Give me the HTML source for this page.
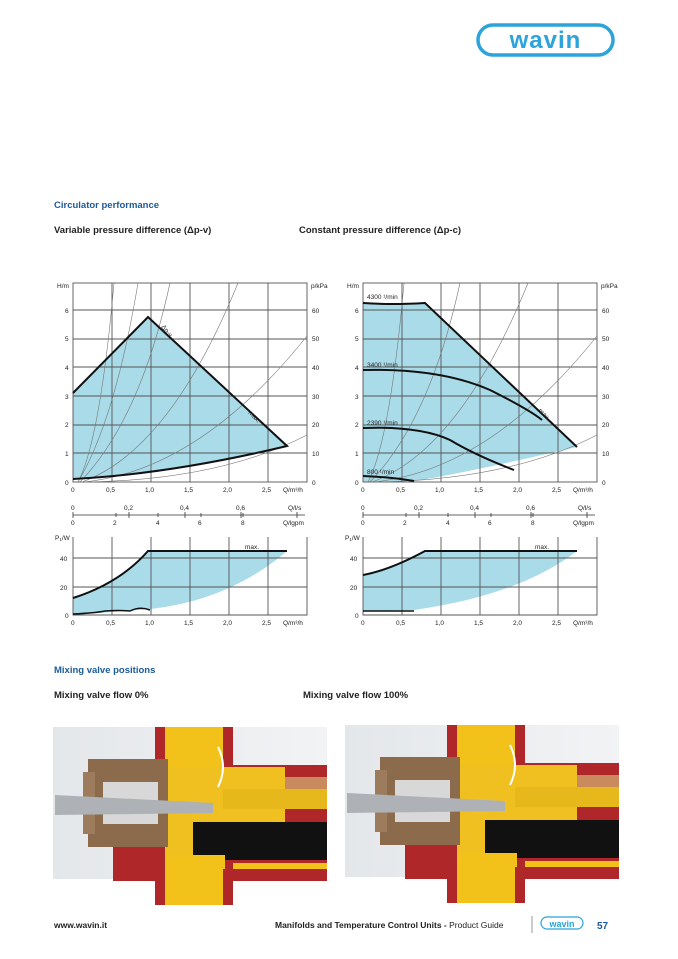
<!DOCTYPE html>
<html><head><meta charset="utf-8"><style>
html,body{margin:0;padding:0;background:#fff;}
svg{display:block;font-family:"Liberation Sans",Arial,sans-serif;}
</style></head><body>
<svg width="678" height="959" viewBox="0 0 678 959" xmlns="http://www.w3.org/2000/svg">
<defs>
<linearGradient id="bg" x1="0" y1="0" x2="1" y2="0"><stop offset="0" stop-color="#e4e7ea"/><stop offset="1" stop-color="#f2f3f5"/></linearGradient>
<g id="photo">
  <rect x="0" y="0" width="274" height="152" fill="url(#bg)"/>
  <rect x="60" y="38" width="214" height="116" fill="#b0272a"/>
  <rect x="102" y="0" width="78" height="178" fill="#b0272a"/>
  <rect x="112" y="0" width="58" height="178" fill="#f2c21a"/>
  <rect x="180" y="50" width="94" height="20" fill="#c98a5e"/>
  <rect x="112" y="40" width="120" height="88" fill="#f0c020"/>
  <rect x="170" y="62" width="104" height="20" fill="#e7b81c"/>
  <rect x="140" y="95" width="134" height="38" fill="#111"/>
  <rect x="112" y="128" width="60" height="14" fill="#f2c21a"/>
  <rect x="180" y="136" width="94" height="6" fill="#f2c21a"/>
  <rect x="35" y="32" width="80" height="88" fill="#8b6b4c"/>
  <rect x="30" y="45" width="12" height="62" fill="#9c7c5c"/>
  <rect x="50" y="55" width="55" height="42" fill="#d8d8d8"/>
  <polygon points="2,68 160,76 160,86 2,88" fill="#aeb2b6"/>
  <path d="M165 60 q10 -20 0 -40" stroke="#fff" stroke-width="2" fill="none"/>
</g>
</defs>

<!-- logo -->
<rect x="478" y="25" width="135" height="30" rx="15" fill="#fff" stroke="#2ba3db" stroke-width="3.5"/>
<text x="545.5" y="48" text-anchor="middle" font-size="24" font-weight="bold" fill="#2ba3db" letter-spacing="1">wavin</text>

<text x="54" y="208" font-size="9.5" font-weight="bold" fill="#1b5b9c">Circulator performance</text>
<text x="54" y="233" font-size="9.5" font-weight="bold" fill="#222">Variable pressure difference (Δp-v)</text>
<text x="299" y="233" font-size="9.5" font-weight="bold" fill="#222">Constant pressure difference (Δp-c)</text>

<!-- LEFT CHART -->
<g id="L">
<path d="M73,393 L148,317 L287,446 Q170,474 73,479 Z" fill="#a9dbe8"/>
<g stroke="#555" stroke-width="0.9" fill="none">
<rect x="73" y="283" width="234" height="199"/>
<path d="M112 283V482M151 283V482M190 283V482M229 283V482M268 283V482"/>
<path d="M73 453H307M73 425H307M73 396H307M73 367H307M73 339H307M73 310H307"/>
</g>
<g stroke="#777" stroke-width="0.6" fill="none">
<path d="M78 482 Q100 440 114 283"/>
<path d="M78 482 Q115 420 138 283"/>
<path d="M80 482 Q140 420 170 283"/>
<path d="M82 482 Q170 450 238 283"/>
<path d="M84 482 Q200 470 307 336"/>
<path d="M86 482 Q220 480 307 435"/>
</g>
<path d="M73,393 L148,317 L287,446 Q170,474 73,479" fill="none" stroke="#111" stroke-width="2"/>
<g font-size="6.5" fill="#222">
<text x="57" y="288">H/m</text><text x="311" y="288">p/kPa</text>
<text x="65" y="313">6</text><text x="65" y="341">5</text><text x="65" y="370">4</text><text x="65" y="399">3</text><text x="65" y="427">2</text><text x="65" y="456">1</text><text x="65" y="485">0</text>
<text x="312" y="313">60</text><text x="312" y="341">50</text><text x="312" y="370">40</text><text x="312" y="399">30</text><text x="312" y="427">20</text><text x="312" y="456">10</text><text x="312" y="485">0</text>
<text x="71" y="492">0</text><text x="106" y="492">0,5</text><text x="145" y="492">1,0</text><text x="184" y="492">1,5</text><text x="223" y="492">2,0</text><text x="262" y="492">2,5</text><text x="283" y="492">Q/m³/h</text>
<text x="161" y="327" transform="rotate(50 161 327)">Δp-v</text>
<text x="248" y="413" transform="rotate(45 248 413)">max.</text>
<text x="71" y="510">0</text><text x="124" y="510">0,2</text><text x="180" y="510">0,4</text><text x="236" y="510">0,6</text><text x="288" y="510">Q/l/s</text>
<text x="71" y="525">0</text><text x="113" y="525">2</text><text x="156" y="525">4</text><text x="198" y="525">6</text><text x="241" y="525">8</text><text x="283" y="525">Q/lgpm</text>
<text x="55" y="540">P<tspan font-size="4.5" dy="1">1</tspan><tspan dy="-1">/W</tspan></text>
<text x="60" y="561">40</text><text x="60" y="590">20</text><text x="65" y="618">0</text>
<text x="71" y="625">0</text><text x="106" y="625">0,5</text><text x="145" y="625">1,0</text><text x="184" y="625">1,5</text><text x="223" y="625">2,0</text><text x="262" y="625">2,5</text><text x="283" y="625">Q/m³/h</text>
<text x="245" y="549">max.</text>
</g>
<g stroke="#333" stroke-width="0.8"><path d="M73 515H305M73 512V518M129 512V518M185 512V518M241 512V518M297 512V518M116 513V517M158 513V517M201 513V517M243 513V517"/></g>
<path d="M73,598 Q120,583 148,551 L287,551 Q230,600 151,609 L73,615 Z" fill="#a9dbe8"/>
<g stroke="#555" stroke-width="0.9" fill="none">
<path d="M73 537V615H307V537M112 537V615M151 537V615M190 537V615M229 537V615M268 537V615M73 558H307M73 587H307"/>
</g>
<path d="M73,598 Q120,583 148,551 L287,551" fill="none" stroke="#111" stroke-width="2"/>
<path d="M73,614 Q95,613 105,611 Q120,610 130,611 Q140,606 150,610" fill="none" stroke="#111" stroke-width="1.5"/>
</g>

<!-- RIGHT CHART -->
<g transform="translate(290,0)">
<path d="M73,303 Q100,305 135,303 L287,447 Q170,474 124,481 L73,482 Z" fill="#a9dbe8"/>
<g stroke="#555" stroke-width="0.9" fill="none">
<rect x="73" y="283" width="234" height="199"/>
<path d="M112 283V482M151 283V482M190 283V482M229 283V482M268 283V482"/>
<path d="M73 453H307M73 425H307M73 396H307M73 367H307M73 339H307M73 310H307"/>
</g>
<g stroke="#777" stroke-width="0.6" fill="none">
<path d="M78 482 Q100 440 114 283"/>
<path d="M80 482 Q140 420 170 283"/>
<path d="M82 482 Q170 450 238 283"/>
<path d="M84 482 Q200 470 307 336"/>
<path d="M86 482 Q220 480 307 435"/>
</g>
<g fill="none" stroke="#111" stroke-width="2">
<path d="M73,303 Q100,305 135,303 L287,447"/>
<path d="M73,370 Q150,368 200,390 Q240,410 252,420"/>
<path d="M73,428 Q130,426 160,440 Q185,455 224,470"/>
<path d="M73,476 Q100,477 124,481"/>
</g>
<g font-size="6.5" fill="#222">
<text x="57" y="288">H/m</text><text x="311" y="288">p/kPa</text>
<text x="65" y="313">6</text><text x="65" y="341">5</text><text x="65" y="370">4</text><text x="65" y="399">3</text><text x="65" y="427">2</text><text x="65" y="456">1</text><text x="65" y="485">0</text>
<text x="312" y="313">60</text><text x="312" y="341">50</text><text x="312" y="370">40</text><text x="312" y="399">30</text><text x="312" y="427">20</text><text x="312" y="456">10</text><text x="312" y="485">0</text>
<text x="71" y="492">0</text><text x="106" y="492">0,5</text><text x="145" y="492">1,0</text><text x="184" y="492">1,5</text><text x="223" y="492">2,0</text><text x="262" y="492">2,5</text><text x="283" y="492">Q/m³/h</text>
<text x="77" y="299">4300 ¹/min</text><text x="77" y="367">3400 ¹/min</text><text x="77" y="425">2390 ¹/min</text><text x="77" y="474">800 ¹/min</text>
<text x="248" y="411" transform="rotate(45 248 411)">max.</text>
<text x="71" y="510">0</text><text x="124" y="510">0,2</text><text x="180" y="510">0,4</text><text x="236" y="510">0,6</text><text x="288" y="510">Q/l/s</text>
<text x="71" y="525">0</text><text x="113" y="525">2</text><text x="156" y="525">4</text><text x="198" y="525">6</text><text x="241" y="525">8</text><text x="283" y="525">Q/lgpm</text>
<text x="55" y="540">P<tspan font-size="4.5" dy="1">1</tspan><tspan dy="-1">/W</tspan></text>
<text x="60" y="561">40</text><text x="60" y="590">20</text><text x="65" y="618">0</text>
<text x="71" y="625">0</text><text x="106" y="625">0,5</text><text x="145" y="625">1,0</text><text x="184" y="625">1,5</text><text x="223" y="625">2,0</text><text x="262" y="625">2,5</text><text x="283" y="625">Q/m³/h</text>
<text x="245" y="549">max.</text>
</g>
<g stroke="#333" stroke-width="0.8"><path d="M73 515H305M73 512V518M129 512V518M185 512V518M241 512V518M297 512V518M116 513V517M158 513V517M201 513V517M243 513V517"/></g>
<path d="M73,575 Q100,570 135,551 L287,551 Q230,595 124,610 L73,611 L73,615 Z" fill="#a9dbe8"/>
<g stroke="#555" stroke-width="0.9" fill="none">
<path d="M73 537V615H307V537M112 537V615M151 537V615M190 537V615M229 537V615M268 537V615M73 558H307M73 587H307"/>
</g>
<path d="M73,575 Q100,570 135,551 L287,551" fill="none" stroke="#111" stroke-width="2"/>
<path d="M73,611 L124,611" fill="none" stroke="#111" stroke-width="1.5"/>
</g>

<text x="54" y="673" font-size="9.5" font-weight="bold" fill="#1b5b9c">Mixing valve positions</text>
<text x="54" y="698" font-size="9.5" font-weight="bold" fill="#222">Mixing valve flow 0%</text>
<text x="303" y="698" font-size="9.5" font-weight="bold" fill="#222">Mixing valve flow 100%</text>

<use href="#photo" transform="translate(53,727)"/>
<use href="#photo" transform="translate(345,725)"/>

<text x="54" y="928" font-size="8.5" font-weight="bold" fill="#222">www.wavin.it</text>
<text x="275" y="928" font-size="8.5" fill="#222"><tspan font-weight="bold">Manifolds and Temperature Control Units - </tspan>Product Guide</text>
<line x1="532" y1="916" x2="532" y2="933" stroke="#999" stroke-width="1"/>
<rect x="541" y="917" width="42" height="12" rx="6" fill="#fff" stroke="#2ba3db" stroke-width="1.2"/>
<text x="562" y="927" text-anchor="middle" font-size="9" font-weight="bold" fill="#2ba3db">wavin</text>
<text x="597" y="929" font-size="10" font-weight="bold" fill="#1b5b9c">57</text>
</svg>
</body></html>
